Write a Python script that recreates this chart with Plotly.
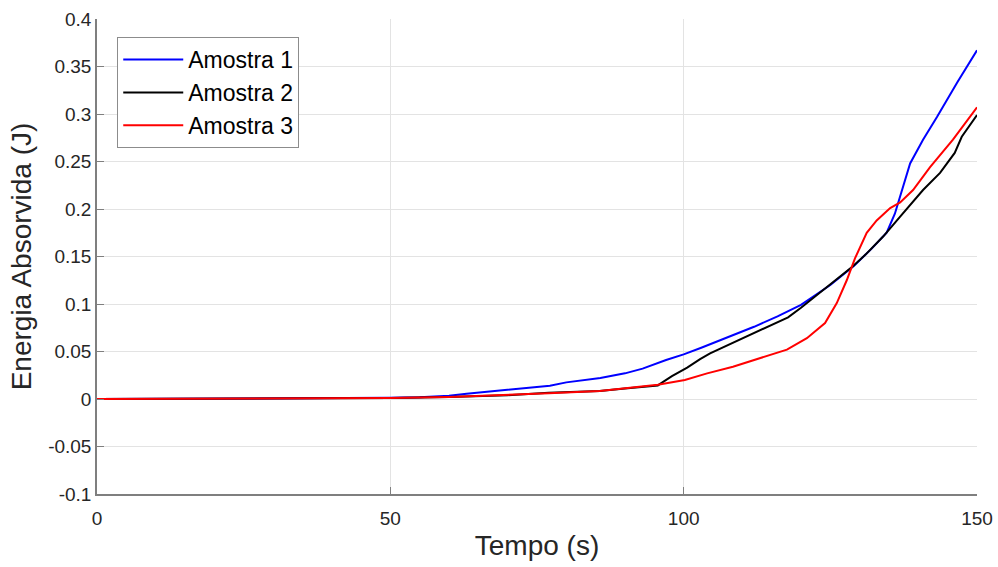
import plotly.graph_objects as go

# Amostra 1 (blue)
x1 = [0, 20, 40, 50, 55, 60, 63, 68.7, 73, 77.2, 80, 85.8, 90, 93, 97, 100, 103, 108, 112, 116, 120, 125, 129, 132, 134.6, 136, 137, 138.6, 140.8, 143.2, 146.6, 150]
y1 = [0, 0.0002, 0.0008, 0.0012, 0.0018, 0.0035, 0.0055, 0.0087, 0.011, 0.014, 0.0175, 0.022, 0.027, 0.032, 0.041, 0.047, 0.054, 0.066, 0.076, 0.087, 0.099, 0.12, 0.14, 0.158, 0.175, 0.195, 0.215, 0.248, 0.273, 0.297, 0.333, 0.367]

# Amostra 2 (black)
x2 = [0, 20, 40, 50, 60, 70, 77, 85.7, 90, 95.6, 96.5, 98, 100.6, 102.8, 104.5, 108, 111.3, 115, 117.8, 120, 122, 125.4, 128.9, 131, 134, 136.9, 140.8, 143.7, 146.2, 147.4, 150]
y2 = [0, 0.0001, 0.0005, 0.001, 0.002, 0.004, 0.0066, 0.0084, 0.011, 0.0143, 0.018, 0.024, 0.033, 0.042, 0.048, 0.058, 0.067, 0.078, 0.086, 0.096, 0.106, 0.123, 0.14, 0.152, 0.171, 0.192, 0.22, 0.238, 0.259, 0.276, 0.299]

# Amostra 3 (red)
x3 = [0, 20, 40, 50, 60, 70, 77, 85.7, 90, 95.6, 100.2, 104, 108.4, 113, 117.6, 121, 124.1, 126.1, 127.8, 129.2, 131.2, 132.9, 135.2, 136.9, 139.1, 142, 145.9, 150]
y3 = [0, 0.0001, 0.0005, 0.001, 0.002, 0.004, 0.006, 0.0084, 0.011, 0.015, 0.020, 0.027, 0.034, 0.043, 0.052, 0.064, 0.080, 0.101, 0.125, 0.148, 0.175, 0.188, 0.201, 0.207, 0.22, 0.244, 0.273, 0.307]

names = ["Amostra 1", "Amostra 2", "Amostra 3"]
colors = ["#0000ff", "#000000", "#ff0000"]

x_ticks = [0, 50, 100, 150]
y_ticks = [-0.1, -0.05, 0, 0.05, 0.1, 0.15, 0.2, 0.25, 0.3, 0.35, 0.4]
y_labels = ["-0.1", "-0.05", "0", "0.05", "0.1", "0.15", "0.2", "0.25", "0.3", "0.35", "0.4"]

fig = go.Figure()
for xs, ys, n, c in zip([x1, x2, x3], [y1, y2, y3], names, colors):
    fig.add_trace(go.Scatter(x=xs, y=ys, mode="lines", name=n,
                             line=dict(color=c, width=2)))

font_family = "Liberation Sans, Arial, sans-serif"
fig.update_layout(
    width=998, height=567,
    margin=dict(l=97, r=21, t=19, b=73, autoexpand=False),
    paper_bgcolor="white", plot_bgcolor="white",
    font=dict(family=font_family, color="#262626", size=19),
    showlegend=True,
    legend=dict(x=0.023, y=0.962, xanchor="left", yanchor="top",
                bgcolor="white", bordercolor="#8c8c8c", borderwidth=1,
                font=dict(size=23, color="#000000"), tracegroupgap=0,
                itemwidth=60),
    xaxis=dict(range=[0, 150], tickvals=x_ticks, ticks="inside", ticklen=7,
               tickcolor="#7f7f7f", showline=True, linecolor="#7f7f7f", linewidth=1.5,
               showgrid=True, gridcolor="#e3e3e3", zeroline=False, mirror=False,
               ticklabelstandoff=6, automargin=False, ticklabeloverflow="allow",
               title=dict(text="Tempo (s)", font=dict(size=28, color="#262626"), standoff=8)),
    yaxis=dict(range=[-0.1, 0.4], tickvals=y_ticks, ticktext=y_labels, ticks="inside",
               ticklen=7, tickcolor="#7f7f7f", showline=True, linecolor="#7f7f7f", linewidth=1.5,
               showgrid=True, gridcolor="#e3e3e3", zeroline=False, automargin=False,
               title=dict(text="Energia Absorvida (J)", font=dict(size=28, color="#262626"), standoff=8)),
)

fig.write_html("out.html", config={"displayModeBar": False},
               post_script="document.body.style.margin='0';document.body.style.overflow='hidden';")
